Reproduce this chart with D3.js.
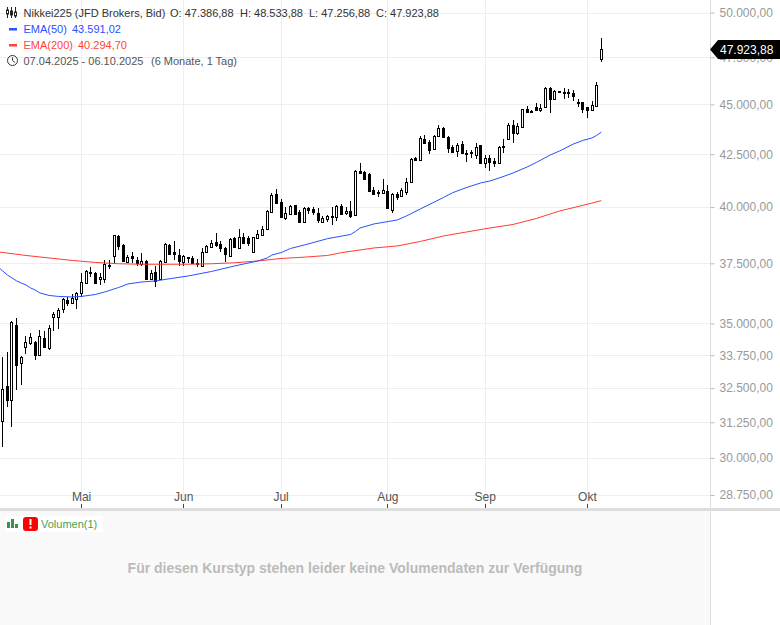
<!DOCTYPE html>
<html>
<head>
<meta charset="utf-8">
<title>Nikkei225</title>
<script src="https://d3js.org/d3.v7.min.js"></script>
<style>
  html, body { margin: 0; padding: 0; background: #fff; overflow: hidden; }
  svg { display: block; font-family: "Liberation Sans", Arial, sans-serif; font-size: 12px; }
</style>
</head>
<body>
<svg id="chart" width="780" height="625"></svg>
<script>
// daily bars 07.04.2025 - 06.10.2025
const open = [
  31299, 32582, 32062, 34942, 33452, 34072, 34228, 34268, 33760, 34425,
  34032, 35264, 35264, 35589, 35958, 35835, 35999, 36247, 36666, 37150,
  37089, 36834, 36834, 37440, 37819, 38696, 38298, 37559, 37819, 37645,
  37473, 37602, 36834, 37131, 36834, 37559, 38298, 37992, 37862, 37559,
  37785, 37732, 37516, 37388, 37992, 38211, 38430, 38342, 38167, 37819,
  38607, 38167, 38652, 38607, 37992, 38607, 38741, 39008, 39776, 40606,
  40235, 39503, 39685, 40097, 39776, 39322, 39959, 39913, 39730, 39322,
  39458, 39594, 39549, 40051, 39730, 39821, 39640, 41690, 41643, 41548,
  40792, 40699, 40653, 40746, 39867, 40606, 40513, 40699, 41168, 42316,
  42219, 43249, 43100, 42755, 43398, 43798, 43348, 42854, 42657, 43002,
  42580, 42609, 42462, 42952, 42075, 42316, 42171, 42075, 42915, 43249,
  43949, 43548, 43848, 44763, 44670, 44866, 44711, 44866, 45857, 45280,
  45700, 45647, 45647, 45595, 45124, 45124, 44866, 44711, 44917, 47386.88
]
const high = [
  33683, 33876, 35102, 35223, 33722, 34504, 34623, 34300, 34742, 34702,
  34942, 35467, 35630, 36040, 36082, 36205, 36288, 37089, 37216, 37345,
  37131, 37089, 37645, 37645, 38760, 38741, 38320, 37862, 37992, 37775,
  37949, 37645, 37216, 37388, 37645, 38386, 38342, 38474, 38123, 37862,
  37790, 37819, 37688, 38167, 38298, 38518, 38830, 38474, 38190, 38607,
  38652, 39008, 38830, 38696, 38652, 38963, 39143, 39867, 40653, 40839,
  40374, 40005, 40097, 40097, 39867, 40005, 40005, 40005, 39959, 39594,
  39640, 40005, 40097, 40143, 40005, 40281, 41738, 42075, 41690, 41595,
  40933, 40792, 41310, 41027, 40653, 40699, 40886, 41357, 42316, 42365,
  43398, 43448, 43199, 43448, 43949, 43848, 43398, 42952, 43051, 43150,
  42706, 42706, 43051, 42952, 42462, 42462, 42316, 42903, 43249, 44050,
  44201, 44050, 44763, 44917, 44711, 45072, 45021, 45910, 45910, 45752,
  45700, 45857, 45805, 45752, 45280, 45124, 44866, 45175, 46171, 48533.88
]
const low = [
  30381, 31806, 31085, 32432, 32619, 33799, 34150, 33567, 33760, 34032,
  33954, 34702, 34782, 35426, 35712, 35835, 35589, 36082, 36666, 36919,
  36624, 36582, 36666, 37259, 37473, 38079, 37559, 37559, 37516, 37388,
  37388, 36834, 36792, 36498, 36792, 37516, 37862, 37645, 37388, 37388,
  37516, 37473, 37345, 37388, 37949, 38167, 38211, 37992, 37559, 37819,
  38211, 38123, 38342, 38254, 37992, 38563, 38741, 38963, 39776, 40189,
  39549, 39412, 39640, 39640, 39322, 39322, 39685, 39640, 39277, 39277,
  39322, 39188, 39367, 39640, 39640, 39503, 39640, 41548, 41262, 40699,
  40560, 40467, 40606, 39913, 39730, 40327, 40467, 40560, 41121, 42219,
  42171, 43051, 42511, 42755, 43348, 43298, 42560, 42560, 42365, 42511,
  42123, 42316, 42268, 42027, 41834, 41690, 41883, 42075, 42560, 43199,
  43051, 43448, 43798, 44558, 44609, 44660, 44609, 44866, 44558, 45280,
  45647, 45280, 45332, 45175, 44866, 44558, 44303, 44660, 44866, 47256.88
]
const close = [
  32469, 32062, 35062, 33375, 33683, 34268, 34464, 33760, 34504, 34072,
  34822, 35386, 35548, 35999, 35835, 36040, 36247, 36708, 37174, 37120,
  36666, 36919, 37473, 37420, 38741, 38254, 37602, 37775, 37732, 37516,
  37602, 36834, 37089, 36750, 37602, 38342, 37905, 37905, 37602, 37819,
  37765, 37516, 37473, 37992, 38254, 38386, 38298, 38167, 37905, 38563,
  38211, 38652, 38386, 38386, 38652, 38785, 39008, 39821, 40560, 40189,
  39549, 39730, 40051, 39685, 39322, 39959, 39867, 39776, 39412, 39503,
  39594, 39549, 40051, 39685, 39821, 39594, 41690, 41595, 41310, 40746,
  40606, 40653, 40792, 39959, 40606, 40467, 40792, 41168, 42268, 42219,
  43298, 43051, 42706, 43398, 43798, 43348, 42805, 42609, 42952, 42560,
  42545, 42560, 42854, 42075, 42316, 42123, 42075, 42854, 42890, 43949,
  43548, 43899, 44763, 44609, 44650, 44711, 44814, 45857, 45280, 45700,
  45647, 45595, 45595, 45437, 45072, 44763, 44711, 44969, 46014, 47923.88
]

const ema50Bars = [
  -1, 0, 1, 2, 3, 4, 5, 6, 7, 8, 10, 12, 15, 17, 20, 22, 24, 25, 27, 30, 33, 35, 40, 45, 50,
  55, 57, 58, 60, 62, 65, 70, 75, 76, 77, 80, 85, 87, 90, 95, 97, 100, 103, 105, 107, 110,
  113, 115, 118, 120, 123, 125, 127, 128, 129
]
const ema50 = [
  37345, 37174, 37004, 36877, 36750, 36666, 36582, 36456, 36372, 36248, 36144, 36103, 36082,
  36103, 36186, 36289, 36414, 36477, 36624, 36708, 36750, 36813, 36962, 37152, 37388, 37602,
  37732, 37862, 37962, 38144, 38298, 38576, 38763, 38896, 39053, 39232, 39412, 39594, 39913,
  40443, 40666, 40910, 41121, 41215, 41357, 41595, 41882, 42099, 42462, 42657, 43002, 43174,
  43299, 43424, 43591.02
]
const ema200Bars = [
  -1, 0, 5, 10, 15, 20, 25, 30, 40, 45, 50, 55, 60, 65, 70, 73, 77, 80, 85, 90, 95, 100, 105,
  110, 115, 120, 125, 129
]
const ema200 = [
  37992, 37970, 37840, 37732, 37624, 37538, 37482, 37461, 37461, 37482, 37525, 37602, 37710,
  37766, 37840, 37962, 38079, 38166, 38254, 38452, 38696, 38874, 39053, 39210, 39480, 39821,
  40076, 40294.70
]

const priceTicks = [50000, 47500, 45000, 42500, 40000, 37500, 35000, 33750, 32500, 31250, 30000, 28750]
const monthLabels = ['Mai', 'Jun', 'Jul', 'Aug', 'Sep', 'Okt']
const monthBars = [17, 39, 60, 83, 104, 126]
const lastPrice = 47923.88

const plotWidth = 710
const plotBottom = 508
const deDE = d3.formatLocale({ decimal: ',', thousands: '.', grouping: [3], currency: ['', ' €'] })
const fmt = deDE.format(',.2f')

const svg = d3.select('#chart')

const x = d3.scaleLinear().domain([0, 129]).range([2.7, 601.3])
const y = d3.scaleLog().domain([28750, 50000]).range([495, 12.5])
const px = i => Math.floor(x(i)) + 0.5

// grid
svg.append('g')
  .selectAll('line')
  .data(priceTicks)
  .enter()
  .append('line')
  .attr('x1', 0)
  .attr('x2', plotWidth)
  .attr('y1', d => Math.round(y(d)) + 0.5)
  .attr('y2', d => Math.round(y(d)) + 0.5)
  .attr('stroke', '#eeeeee')

svg.append('g')
  .selectAll('line')
  .data(monthBars)
  .enter()
  .append('line')
  .attr('x1', d => px(d))
  .attr('x2', d => px(d))
  .attr('y1', 0)
  .attr('y2', plotBottom)
  .attr('stroke', '#eeeeee')

// candles
const bars = open.map((d, i) => ({ i: i, o: d, h: high[i], l: low[i], c: close[i] }))
const plot = svg.append('g')

plot.selectAll('line.wick')
  .data(bars)
  .enter()
  .append('line')
  .attr('class', 'wick')
  .attr('x1', d => px(d.i))
  .attr('x2', d => px(d.i))
  .attr('y1', d => Math.round(y(d.h)))
  .attr('y2', d => Math.round(y(d.l)))
  .attr('stroke', '#000')

plot.selectAll('rect.body')
  .data(bars)
  .enter()
  .append('rect')
  .attr('class', 'body')
  .attr('x', d => px(d.i) - 1)
  .attr('width', 2)
  .attr('y', d => Math.round(y(Math.max(d.o, d.c))) + 0.5)
  .attr('height', d => Math.max(Math.round(y(Math.min(d.o, d.c))) - Math.round(y(Math.max(d.o, d.c))), 1))
  .attr('fill', d => (d.c >= d.o ? '#fff' : '#000'))
  .attr('stroke', '#000')

// EMAs
const emaLine = bars => d3.line()
  .x((d, i) => x(bars[i]))
  .y(d => y(d))

svg.append('path')
  .attr('d', emaLine(ema200Bars)(ema200))
  .attr('fill', 'none')
  .attr('stroke', '#ff3b30')
  .attr('stroke-width', 1)

svg.append('path')
  .attr('d', emaLine(ema50Bars)(ema50))
  .attr('fill', 'none')
  .attr('stroke', '#2a50ff')
  .attr('stroke-width', 1)

// lower panel
svg.append('rect')
  .attr('x', 0)
  .attr('y', 510)
  .attr('width', plotWidth)
  .attr('height', 115)
  .attr('fill', '#f9f9f9')

svg.append('line')
  .attr('x1', plotWidth + 0.5)
  .attr('x2', plotWidth + 0.5)
  .attr('y1', 0)
  .attr('y2', 625)
  .attr('stroke', '#dddddd')

// x axis
const xAxis = d3.axisBottom(x)
  .tickValues(monthBars)
  .tickFormat((d, i) => monthLabels[i])
  .tickSize(0)

const xG = svg.append('g')
  .attr('transform', 'translate(0,491)')
  .call(xAxis)
xG.select('.domain').remove()
xG.selectAll('text')
  .attr('x', -0.5)
  .attr('y', 1)
  .attr('dy', '0.71em')
  .attr('fill', '#555')
  .attr('font-family', '"Liberation Sans", Arial, sans-serif')
  .attr('font-size', 12)

svg.append('g')
  .selectAll('line')
  .data(monthBars)
  .enter()
  .append('line')
  .attr('x1', d => px(d))
  .attr('x2', d => px(d))
  .attr('y1', 504)
  .attr('y2', 508)
  .attr('stroke', '#444')

svg.append('rect')
  .attr('x', 0)
  .attr('y', 508)
  .attr('width', 780)
  .attr('height', 3)
  .attr('fill', '#dddddd')

// y axis
const yAxis = d3.axisRight(y)
  .tickValues(priceTicks)
  .tickFormat(fmt)
  .tickSize(4)
  .tickPadding(5)

const yG = svg.append('g')
  .attr('transform', 'translate(' + (plotWidth + 0.5) + ',0)')
  .call(yAxis)
yG.select('.domain').remove()
yG.selectAll('line').attr('stroke', '#bbbbbb')
yG.selectAll('text')
  .attr('fill', '#999')
  .attr('font-family', '"Liberation Sans", Arial, sans-serif')
  .attr('font-size', 12)

// last price tag
const tagY = Math.round(y(lastPrice)) + 0.5
svg.append('path')
  .attr('d', d3.line()([[710, tagY], [718, tagY - 9.5], [780, tagY - 9.5], [780, tagY + 9.5], [718, tagY + 9.5]]))
  .attr('fill', '#000')
svg.append('text')
  .attr('x', 720)
  .attr('y', tagY + 4)
  .attr('fill', '#fff')
  .attr('font-size', 12)
  .text(fmt(lastPrice))

// legend
function label (xPos, yPos, txt, color) {
  return svg.append('text')
    .attr('x', xPos)
    .attr('y', yPos)
    .attr('fill', color)
    .attr('font-size', 11)
    .text(txt)
}

label(23.5, 17, 'Nikkei225 (JFD Brokers, Bid)', '#333')
label(170, 17, 'O: ' + fmt(open[129]), '#333')
label(240, 17, 'H: ' + fmt(high[129]), '#333')
label(309, 17, 'L: ' + fmt(low[129]), '#333')
label(376, 17, 'C: ' + fmt(close[129]), '#333')
label(23.5, 33, 'EMA(50)', '#2a50ff')
label(72, 33, fmt(ema50[ema50.length - 1]), '#2a50ff')
label(23.5, 49, 'EMA(200)', '#ff4438')
label(78, 49, fmt(ema200[ema200.length - 1]), '#ff4438')
label(23.5, 65, '07.04.2025 - 06.10.2025', '#555')
label(151, 65, '(6 Monate, 1 Tag)', '#555')

// legend markers and icons
svg.append('rect').attr('x', 9).attr('y', 28).attr('width', 8).attr('height', 2.5).attr('fill', '#2a50ff')
svg.append('rect').attr('x', 9).attr('y', 44).attr('width', 8).attr('height', 2.5).attr('fill', '#ff4438')

const candleIcon = svg.append('g').attr('stroke', '#222').attr('fill', '#fff')
;[7.5, 11.5, 15.5].forEach((d, i) => {
  candleIcon.append('line').attr('x1', d).attr('x2', d).attr('y1', 7).attr('y2', 18)
  candleIcon.append('rect').attr('x', d - 1).attr('y', 10 + i).attr('width', 2).attr('height', 4)
    .attr('fill', i === 1 ? '#222' : '#fff')
})

const clock = svg.append('g').attr('stroke', '#333').attr('fill', 'none')
clock.append('circle').attr('cx', 12.5).attr('cy', 60.5).attr('r', 5)
clock.append('path').attr('d', 'M12.5 57.5V60.5L15 62.5')

// volume panel
svg.append('rect').attr('x', 5).attr('y', 516).attr('width', 98).attr('height', 16).attr('fill', '#fff')
const volIcon = svg.append('g').attr('fill', '#3d8f4a')
;[[7, 522, 6], [11, 519, 9], [15, 524, 4]].forEach(d => {
  volIcon.append('rect').attr('x', d[0]).attr('y', d[1]).attr('width', 3).attr('height', d[2])
})
svg.append('rect').attr('x', 23).attr('y', 517).attr('width', 15).attr('height', 14).attr('rx', 3).attr('fill', '#f00')
svg.append('rect').attr('x', 29.5).attr('y', 519).attr('width', 2).attr('height', 6).attr('fill', '#fff')
svg.append('rect').attr('x', 29.5).attr('y', 526.5).attr('width', 2).attr('height', 2).attr('fill', '#fff')
label(41, 528, 'Volumen(1)', '#4a9e52')

svg.append('text')
  .attr('x', 355)
  .attr('y', 573)
  .attr('text-anchor', 'middle')
  .attr('fill', '#bbbbbb')
  .attr('font-size', 14)
  .attr('font-weight', 'bold')
  .text('Für diesen Kurstyp stehen leider keine Volumendaten zur Verfügung')
</script>
</body>
</html>
